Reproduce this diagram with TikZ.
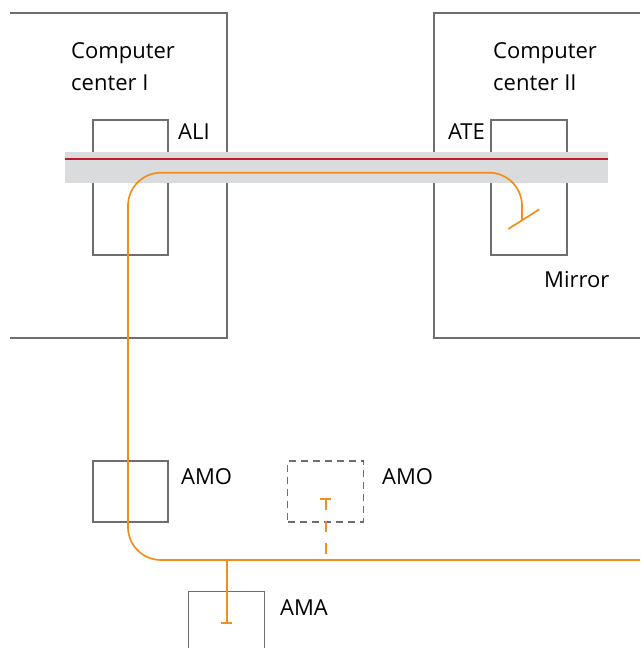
\documentclass[tikz,border=0pt]{standalone}
\usepackage{fontspec}
\setmainfont{Open Sans}
\usetikzlibrary{positioning}
\definecolor{cable}{RGB}{242,142,28}
\definecolor{frame}{RGB}{110,110,110}
\definecolor{duct}{RGB}{218,219,221}
\definecolor{beam}{RGB}{190,25,45}
\tikzset{
  site/.style={draw=frame, line width=1.4pt},
  unit/.style={rectangle, draw=frame, line width=1.4pt, inner sep=0pt},
  ghost/.style={unit, dash pattern=on 7pt off 5pt},
  lbl/.style={font=\fontsize{22}{32}\selectfont, inner sep=0pt, anchor=base west},
  ttl/.style={lbl, align=left, anchor=north west},
  fibre/.style={draw=cable, line width=1.7pt},
  tapbar/.style={draw=cable, line width=1.7pt},
}

\begin{document}
\begin{tikzpicture}[x=1pt, y=-1pt]
  \useasboundingbox (0,0) rectangle (640,648);

  % computer centers
  \draw[site] (10,13) -- (227,13) -- (227,338) -- (10,338);
  \draw[site] (640,13) -- (434,13) -- (434,338) -- (640,338);
  \node[ttl] (cc1) at (71,42) {Computer\\center I};
  \node[ttl] (cc2) at (493,42) {Computer\\center II};

  % stations
  \node[unit, minimum width=75pt, minimum height=135pt] (ali) at (130.5,187.5) {};
  \node[unit, minimum width=76pt, minimum height=135pt] (ate) at (529,187.5) {};
  \node[unit, minimum width=75pt, minimum height=61pt] (amo) at (130.5,491.3) {};
  \node[ghost, minimum width=75.6pt, minimum height=61pt] (amo2) at (325.5,491.3) {};
  \node[unit, minimum width=76pt, minimum height=100pt] (ama) at (226.7,641.7) {};

  \node[lbl] (alil) at (178,139) {ALI};
  \node[lbl, anchor=base east] (atel) at (485,139) {ATE};
  \node[lbl] (mirl) at (544,287) {Mirror};
  \node[lbl] (amol) at (181,484) {AMO};
  \node[lbl] (amo2l) at (382,484) {AMO};
  \node[lbl] (amal) at (280,615) {AMA};

  % tunnel with beam
  \fill[duct] (65,152) rectangle (608,183);
  \coordinate (bw) at (65,159);
  \coordinate (be) at (608,159);
  \draw[beam, line width=1.3pt] (bw) -- (be);

  % fibre run
  \coordinate (mir) at (522,220);
  \coordinate (east) at (640,560);
  \draw[fibre, rounded corners=33pt] (mir) -- (522,172.7) -- (128,172.7) -- (128,560) -- (east);
  \coordinate (m1) at (508.3,229);
  \coordinate (m2) at (539.3,209.3);
  \draw[fibre] (m1) -- (m2);

  % taps
  \coordinate (amaTap) at (226.7,560);
  \coordinate (amaEnd) at (226.7,623.3);
  \draw[fibre] (amaTap) -- (amaEnd);
  \draw[tapbar] ([xshift=-5.5pt]amaEnd) -- ([xshift=5.5pt]amaEnd);
  \coordinate (amoTap) at (325.7,560);
  \coordinate (amoEnd) at (325.7,499);
  \draw[fibre, dash pattern=on 11pt off 11pt] (amoEnd) -- (amoTap);
  \draw[tapbar] ([xshift=-5.5pt]amoEnd) -- ([xshift=5.5pt]amoEnd);
\end{tikzpicture}
\end{document}
